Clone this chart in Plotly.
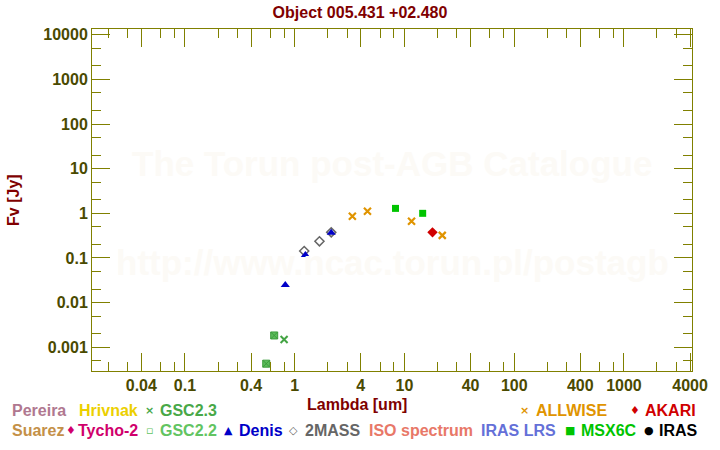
import plotly.graph_objects as go
import numpy as np

# ---------------- data ----------------
gsc22_lam = [0.55, 0.65]
gsc22_f = [4.3e-4, 1.84e-3]
gsc23_lam = [0.80]
gsc23_f = [1.5e-3]
tmass_lam = [1.22, 1.68, 2.15]
tmass_f = [0.143, 0.236, 0.375]
denis_lam = [0.82, 1.25, 2.15]
denis_f = [0.0247, 0.116, 0.367]
allwise_lam = [3.35, 4.6, 11.6, 22.1]
allwise_f = [0.857, 1.11, 0.662, 0.321]
msx_lam = [8.28, 14.65]
msx_f = [1.29, 1.0]
akari_lam = [18.0]
akari_f = [0.375]

x_major = [0.04, 0.1, 0.4, 1, 4, 10, 40, 100, 400, 1000, 4000]
x_major_text = ["0.04", "0.1", "0.4", "1", "4", "10", "40", "100", "400", "1000", "4000"]
x_minor = [0.02, 0.03, 0.06, 0.08, 0.2, 0.3, 0.6, 0.8, 2, 3, 6, 8, 20, 30, 60, 80,
           200, 300, 600, 800, 2000, 3000]
y_major = [0.001, 0.01, 0.1, 1, 10, 100, 1000, 10000]
y_major_text = ["0.001", "0.01", "0.1", "1", "10", "100", "1000", "10000"]
y_minor = [5e-4, 0.002, 0.005, 0.02, 0.05, 0.2, 0.5, 2, 5, 20, 50, 200, 500,
           2000, 5000]

title_text = "Object 005.431 +02.480"
xlabel = "Lambda [um]"
ylabel = "Fv [Jy]"
watermarks = ["The Torun post-AGB Catalogue", "http://www.ncac.torun.pl/postagb"]

# legend rows: (label, colour, marker glyph)
legend_row1 = [("Pereira", "#b07890", ""), ("Hrivnak", "#ecd000", ""),
               ("GSC2.3", "#48a848", "×"), ("ALLWISE", "#e09400", "×"),
               ("AKARI", "#d00000", "♦")]
legend_row2 = [("Suarez", "#c49048", ""), ("Tycho-2", "#d0006c", "♦"),
               ("GSC2.2", "#62c462", "▫"), ("Denis", "#0000c8", "▲"),
               ("2MASS", "#666666", "◇"), ("ISO spectrum", "#e87868", ""),
               ("IRAS LRS", "#6470d8", ""), ("MSX6C", "#00c400", "■"),
               ("IRAS", "#000000", "●")]
# layout positions (pixels) for legend items: text-left x, marker centre x
row1_pos = [(10, None), (78, None), (160, 150), (540, 530), (650, 641)]
row2_pos = [(10, None), (77, 71), (160, 150), (240, 230), (306, 296),
            (371, None), (485, None), (586, 576), (665, 656)]
row_y = [410.5, 430.5]

# ---------------- figure ----------------
W, H = 720, 450
L, R, T, B = 92, 21, 29, 79
PW, PH = W - L - R, H - T - B

FONT = "Liberation Sans, Arial, sans-serif"
AXIS_C = "#808000"
TICK_C = "#4a4a00"
RED = "#800000"

fig = go.Figure()

fig.add_trace(go.Scatter(x=gsc22_lam, y=gsc22_f, mode="markers",
                         marker=dict(symbol="square-x", size=7, color="#5cbc5c",
                                     line=dict(color="#3c9c3c", width=1))))
fig.add_trace(go.Scatter(x=gsc23_lam, y=gsc23_f, mode="markers",
                         marker=dict(symbol="x-thin", size=7,
                                     line=dict(color="#44a444", width=2))))
fig.add_trace(go.Scatter(x=tmass_lam, y=tmass_f, mode="markers",
                         marker=dict(symbol="diamond-open", size=7, color="#666666",
                                     line=dict(color="#666666", width=1.5))))
fig.add_trace(go.Scatter(x=denis_lam, y=denis_f, mode="markers",
                         marker=dict(symbol="triangle-up", size=8, color="#0000c8",
                                     line=dict(width=0))))
fig.add_trace(go.Scatter(x=allwise_lam, y=allwise_f, mode="markers",
                         marker=dict(symbol="x-thin", size=7,
                                     line=dict(color="#e09400", width=2.2))))
fig.add_trace(go.Scatter(x=msx_lam, y=msx_f, mode="markers",
                         marker=dict(symbol="square", size=7, color="#00c400",
                                     line=dict(width=0))))
fig.add_trace(go.Scatter(x=akari_lam, y=akari_f, mode="markers",
                         marker=dict(symbol="diamond", size=8, color="#d00000",
                                     line=dict(width=0))))

common_axis = dict(type="log", showgrid=False, zeroline=False, showline=True,
                   linecolor=AXIS_C, linewidth=1, mirror="ticks", ticks="inside",
                   ticklen=18, tickwidth=1, tickcolor=AXIS_C,
                   tickfont=dict(family=FONT, size=16, color=TICK_C, weight="bold"))

fig.update_xaxes(**common_axis, range=[np.log10(0.01421), np.log10(4169)],
                 tickmode="array", tickvals=x_major, ticktext=x_major_text,
                 minor=dict(tickvals=x_minor, ticklen=9, tickcolor=AXIS_C,
                            tickwidth=1, ticks="inside"))
fig.update_yaxes(**common_axis, range=[-3.531, 4.128],
                 tickmode="array", tickvals=y_major, ticktext=y_major_text,
                 minor=dict(tickvals=y_minor, ticklen=9, tickcolor=AXIS_C,
                            tickwidth=1, ticks="inside"))


def px2paper(px, py):
    return (px - L) / PW, (H - B - py) / PH


ann = []
# watermarks
for txt, py in zip(watermarks, [163, 262]):
    _, yp = px2paper(0, py)
    ann.append(dict(text=txt, x=0.5, y=yp, xref="paper", yref="paper",
                    showarrow=False, xanchor="center", yanchor="middle",
                    font=dict(family=FONT, size=35, color="#fcfaf6", weight="bold")))
# axis titles
xp, yp = px2paper(360, 404)
ann.append(dict(text=xlabel, x=xp, y=yp, xref="paper", yref="paper", showarrow=False,
                xanchor="center", yanchor="middle",
                font=dict(family=FONT, size=16, color=RED, weight="bold")))
xp, yp = px2paper(12, 200)
ann.append(dict(text=ylabel, x=xp, y=yp, xref="paper", yref="paper", showarrow=False,
                xanchor="center", yanchor="middle", textangle=-90,
                font=dict(family=FONT, size=16, color=RED, weight="bold")))
# legend
for row, pos, py in [(legend_row1, row1_pos, row_y[0]), (legend_row2, row2_pos, row_y[1])]:
    for (label, col, glyph), (tx, mx) in zip(row, pos):
        xp, yp = px2paper(tx - 1, py)
        ann.append(dict(text=label, x=xp, y=yp, xref="paper", yref="paper",
                        showarrow=False, xanchor="left", yanchor="middle",
                        font=dict(family=FONT, size=16, color=col, weight="bold")))
        if glyph:
            xp, yp = px2paper(mx, py)
            ann.append(dict(text=glyph, x=xp, y=yp, xref="paper", yref="paper",
                            showarrow=False, xanchor="center", yanchor="middle",
                            font=dict(family="DejaVu Sans, " + FONT, size=11,
                                      color=col, weight="bold")))

fig.update_layout(
    width=W, height=H, margin=dict(l=L, r=R, t=T, b=B, pad=0),
    paper_bgcolor="white", plot_bgcolor="white", showlegend=False,
    title=dict(text=title_text, x=0.5, xref="container", xanchor="center",
               y=1 - 12 / H, yanchor="middle",
               font=dict(family=FONT, size=16, color=RED, weight="bold")),
    annotations=ann,
)

fig.write_html("out.html")
